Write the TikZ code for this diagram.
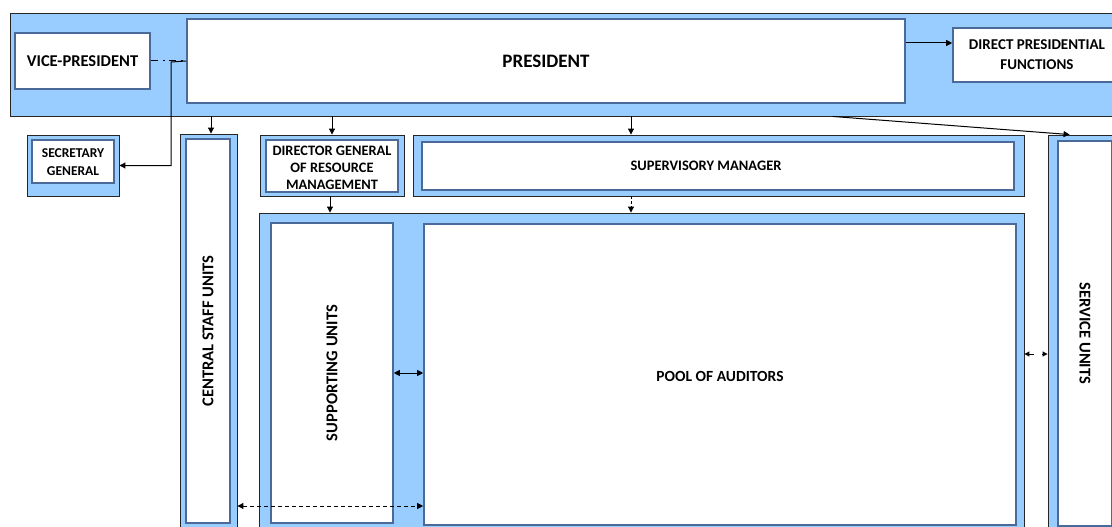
\documentclass[tikz,border=0pt]{standalone}
\usepackage{fontspec}
\usepackage{graphicx}
\setmainfont{Carlito}
\usetikzlibrary{arrows.meta,calc,fit}

\definecolor{boxfill}{HTML}{99CCFF}
\definecolor{boxedge}{HTML}{4A6A9A}
\definecolor{frameedge}{HTML}{262626}

\newcommand\fs[2]{\fontsize{#1}{#2}\selectfont\bfseries}

\tikzset{
  frame/.style={draw=frameedge, line width=0.9pt, fill=boxfill, inner sep=0pt},
  unit/.style={draw=boxedge, line width=1.6pt, fill=white, inner sep=0pt},
  caption/.style={inner sep=0pt, align=center},
  link/.style={line width=1pt, -{Triangle[length=6pt,width=6pt]}},
  twoway/.style={line width=1pt, {Triangle[length=6pt,width=6pt]}-{Triangle[length=6pt,width=6pt]}},
  dashlink/.style={twoway, dash pattern=on 4pt off 3pt},
  dotdash/.style={line width=1pt, dash pattern=on 7pt off 5pt on 2pt off 4pt},
}

\begin{document}
\begin{tikzpicture}[x=1pt,y=-1pt]
\useasboundingbox (0,0) rectangle (1112,527);
\clip (0,0) rectangle (1112,527);

% top band with president, vice-president and direct functions
\node[frame, fit={(10,13) (1125,116)}] (banner) {};
\node[unit, fit={(15,33) (150,89)}] (vp) {};
\node[unit, fit={(187,19) (905,103)}] (pres) {};
\node[unit, fit={(953,28) (1121,82)}] (dpf) {};
\node[caption, font=\fs{16.5}{20}] at (vp.center) (vptext) {VICE-PRESIDENT};
\node[caption, font=\fs{19}{23}] at (pres.center) (prestext) {PRESIDENT};
\node[caption, font=\fs{15}{20}] at (dpf.center) (dpftext) {DIRECT PRESIDENTIAL\\FUNCTIONS};

% secretary general
\node[frame, fit={(27,135) (119,196)}] (sgout) {};
\node[unit, fit={(32,140) (114,183)}] (sg) {};
\node[caption, font=\fs{13.5}{17.7}] at ($(sg.center)+(0,0.5)$) (sgtext) {SECRETARY\\GENERAL};

% central staff units
\node[frame, fit={(180,134) (237,540)}] (csuout) {};
\node[unit, fit={(186,139) (230,523)}] (csu) {};
\node[caption, font=\fs{16.5}{20}, rotate=90] at (csu.center) (csutext) {CENTRAL STAFF UNITS};

% director general of resource management
\node[frame, fit={(260,135) (404,196)}] (dgout) {};
\node[unit, fit={(266,140) (398,192)}] (dg) {};
\node[caption, font=\fs{14.4}{16.8}] at ($(dg.center)+(0,2)$) (dgtext) {DIRECTOR GENERAL\\OF RESOURCE\\MANAGEMENT};

% supervisory manager
\node[frame, fit={(413,135) (1024,196)}] (smout) {};
\node[unit, fit={(422,142) (1014,190)}] (sm) {};
\node[caption, font=\fs{14.5}{18}] at ($(sm.center)+(-12,0)$) (smtext) {SUPERVISORY MANAGER};

% service units
\node[frame, fit={(1048,135) (1125,540)}] (suout) {};
\node[unit, fit={(1058,141) (1112,526)}] (su) {};
\node[caption, font=\fs{16.5}{20}, rotate=-90] at (su.center) (sutext) {SERVICE UNITS};

% lower block: supporting units and pool of auditors
\node[frame, fit={(259,213) (1024,540)}] (lower) {};
\node[unit, fit={(271,223) (393,523)}] (sup) {};
\node[unit, fit={(424,224) (1016,525)}] (pool) {};
\node[caption, font=\fs{16.5}{20}, rotate=90] at (sup.center) (suptext) {SUPPORTING UNITS};
\node[caption, font=\fs{15.5}{20}] at ($(pool.center)+(0,1.5)$) (pooltext) {POOL OF AUDITORS};

% connectors
\coordinate (smx) at (631,0);
\coordinate (dpfy) at (0,43);
\coordinate (suppy) at (0,506);
\coordinate (servy) at (0,354);
\coordinate (sgj) at (171,62);

\draw[dotdash] (vp.east) -- (vp.east -| pres.west);
\draw[link] (vp.east -| pres.west) -- (sgj) |- (sgout.east);
\draw[link] (pres.east |- dpfy) -- (dpf.west |- dpfy);
\draw[link] ($(banner.south -| csuout.north)+(2.5,0)$) -- ($(csuout.north)+(2.5,0)$);
\draw[link] (banner.south -| dgout.north) -- (dgout.north);
\draw[link] (banner.south -| smx) -- (smout.north -| smx);
\draw[link] ($(banner.south west)+(823,0)$) -- ($(suout.north west)+(22,0)$);
\draw[link] ($(dgout.south)+(-2,0)$) -- ($(lower.north -| dgout.south)+(-2,0)$);
\draw[link, dash pattern=on 3pt off 2pt] (smout.south -| smx) -- (lower.north -| smx);
\draw[twoway] (sup.east) -- (sup.east -| pool.west);
\draw[dashlink] (csuout.east |- suppy) -- (pool.west |- suppy);
\draw[line width=1pt, dash pattern=on 5pt off 8pt, {Triangle[length=5pt,width=5pt]}-{Triangle[length=5pt,width=5pt]}] (lower.east |- servy) -- (suout.west |- servy);
\end{tikzpicture}
\end{document}
